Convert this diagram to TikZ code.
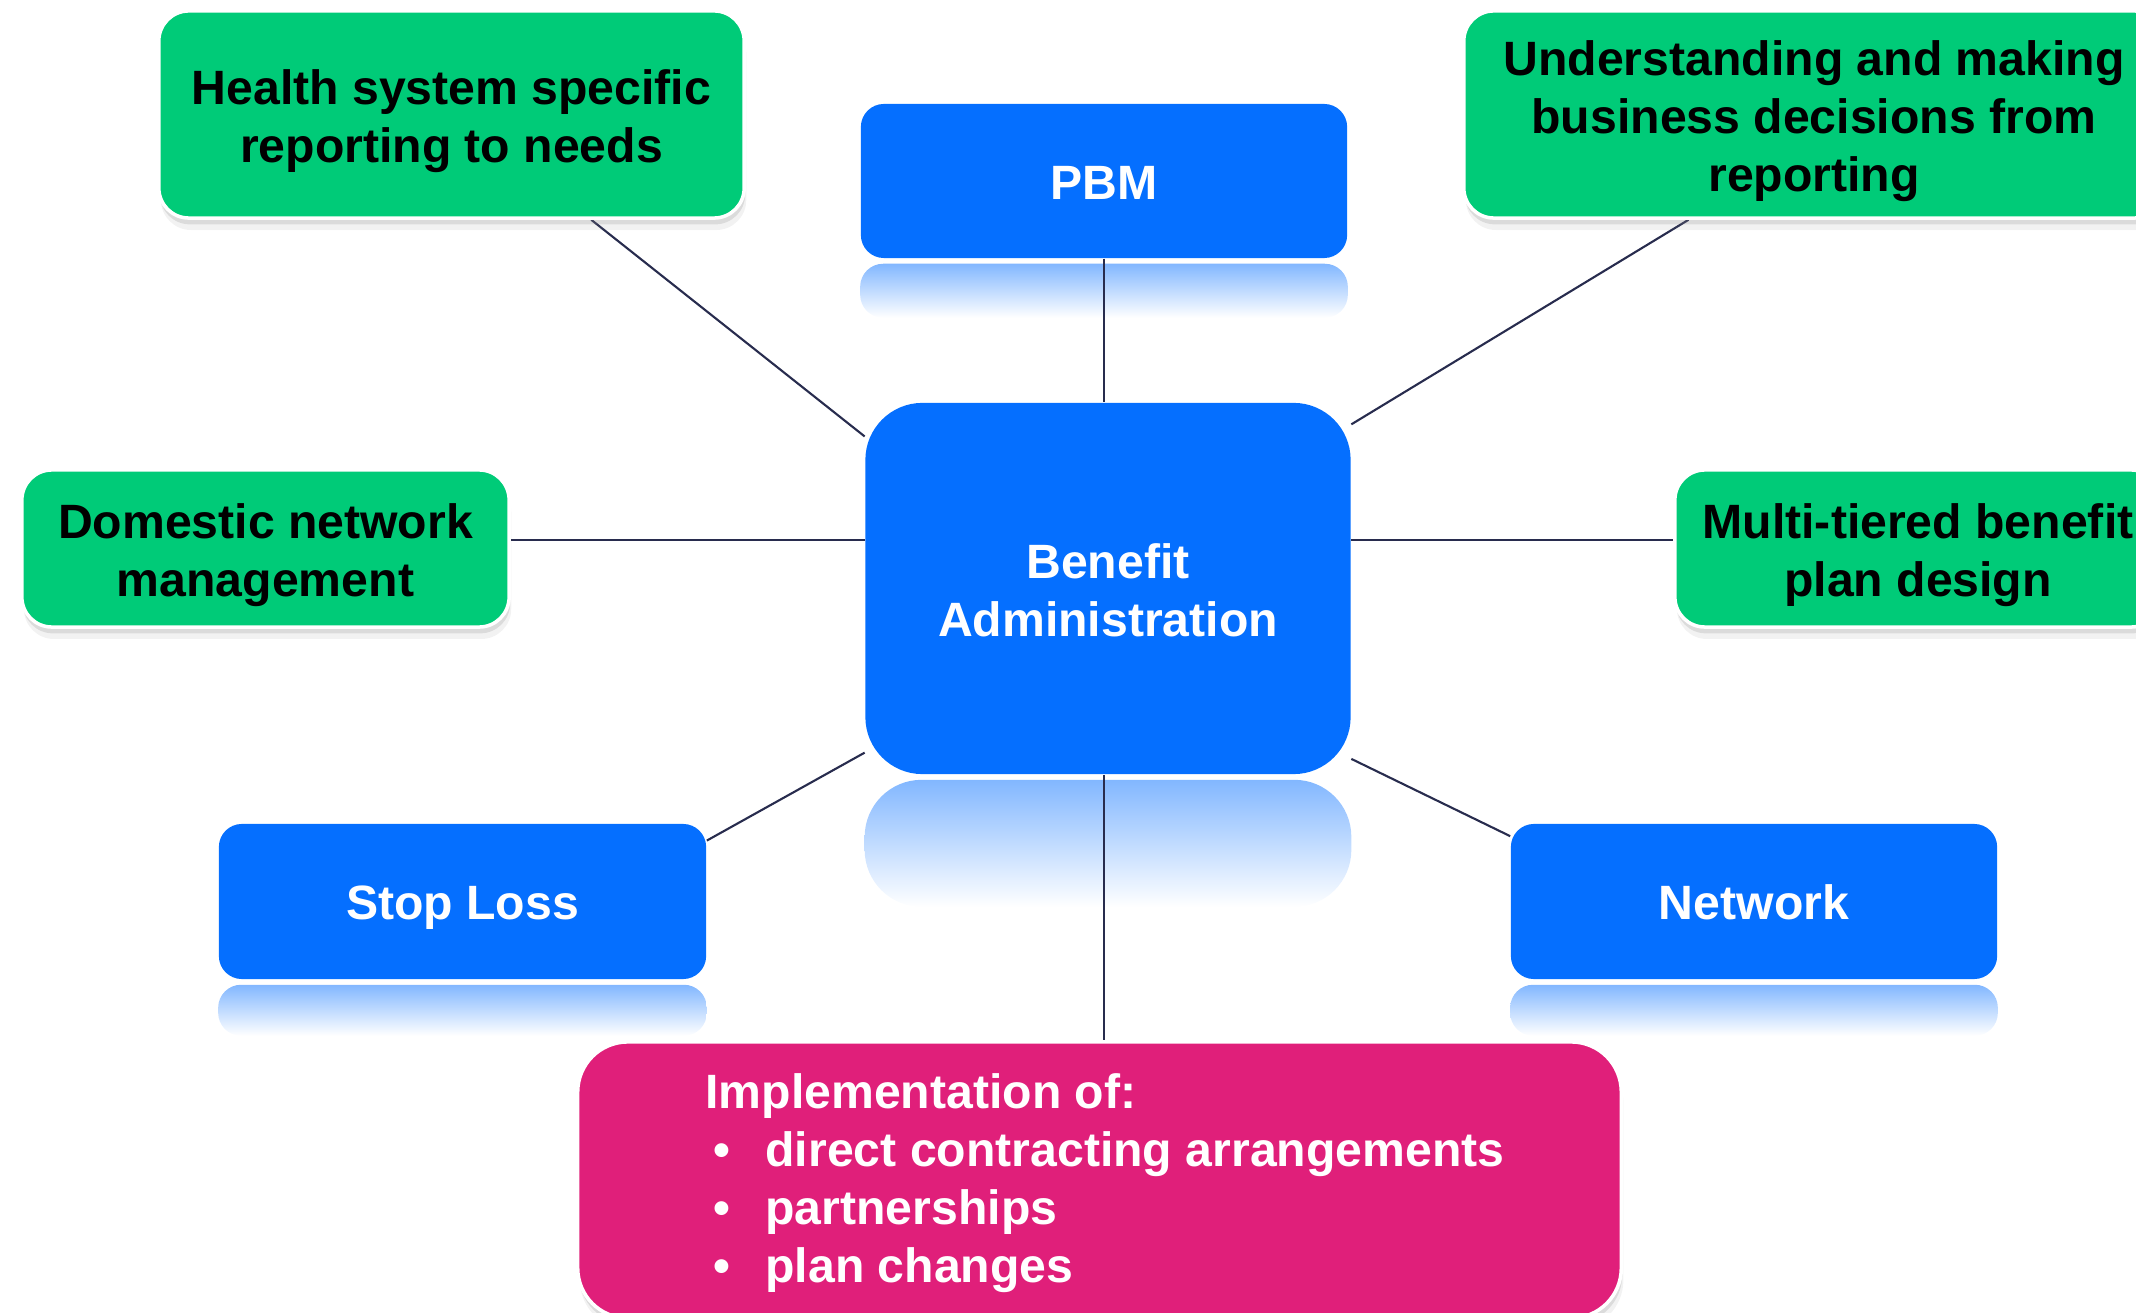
\documentclass[tikz,border=0pt]{standalone}
\usepackage{fontspec}
\setmainfont{Liberation Sans}
\usetikzlibrary{shadows}
\definecolor{boxblue}{RGB}{5,111,255}
\definecolor{boxgreen}{RGB}{0,203,120}
\definecolor{boxpink}{RGB}{224,31,122}
\definecolor{linknavy}{RGB}{40,44,78}
\pgfdeclarelayer{refl}
\pgfdeclarelayer{links}
\pgfsetlayers{refl,links,main}
\newcommand\linestrut[1]{\rule[-0.212em]{0pt}{#1}}
\newcommand\firststrut[1][0.99em]{\rule{0pt}{#1}}
\newcommand\bulletitem{\hspace*{0.19cm}\makebox[0.52cm][l]{\textbullet}}

\begin{document}
\begin{tikzpicture}[x=0.01cm,y=-0.01cm,
	txt/.style={font=\fontsize{13.7}{16.5}\selectfont\bfseries, align=center, execute at begin node=\linestrut{1.174em}, execute at end node=\linestrut{1.117em}},
	bluebox/.style={txt, fill=boxblue, text=white, rounded corners=0.23cm},
	softshadow/.style={drop shadow={shadow xshift=0.3pt, shadow yshift=-1.8pt, opacity=0.2}, drop shadow={shadow xshift=0.6pt, shadow yshift=-3.4pt, opacity=0.1}},
	greenbox/.style={txt, fill=boxgreen, draw=white, line width=1pt, rounded corners=0.3cm, softshadow},
	pinkbox/.style={txt, align=left, fill=boxpink, text=white, draw=white, line width=1pt, rounded corners=0.5cm, softshadow},
	link/.style={draw=linknavy, line width=0.6pt},
	reflshade/.style={top color=boxblue!50!white, bottom color=white}]
	\useasboundingbox (0,0) rectangle (2136,1313);

	\node[greenbox, minimum width=5.85cm, minimum height=2.07cm] (health) at (451.5,114.5) {\firststrut Health system specific\\reporting to needs};
	\node[bluebox, minimum width=4.86cm, minimum height=1.54cm] (pbm) at (1104,181) {PBM};
	\node[greenbox, minimum width=7cm, minimum height=2.07cm] (understand) at (1814,114.5) {\firststrut Understanding and making\\business decisions from\\reporting};
	\node[greenbox, minimum width=4.87cm, minimum height=1.57cm] (domestic) at (265.5,548.5) {\firststrut Domestic network\\management};
	\node[bluebox, rounded corners=0.57cm, minimum width=4.85cm, minimum height=3.71cm] (benefit) at (1108,588.5) {\firststrut[1.01em]Benefit\\Administration};
	\node[greenbox, minimum width=4.86cm, minimum height=1.57cm] (multi) at (1918,548.5) {\firststrut Multi-tiered benefit\\plan design};
	\node[bluebox, minimum width=4.87cm, minimum height=1.55cm] (stoploss) at (462.5,901.5) {Stop Loss};
	\node[bluebox, minimum width=4.86cm, minimum height=1.55cm] (network) at (1754,901.5) {Network};
	\node[pinkbox, minimum width=10.43cm, minimum height=2.76cm] (impl) at (1099.5,1180) {\firststrut[0.87em]\hspace*{0.11cm}Implementation of:\\
		\bulletitem direct contracting arrangements\\
		\bulletitem partnerships\\
		\bulletitem plan changes};

	\begin{pgfonlayer}{refl}
		\foreach \n/\h/\r in {pbm/0.59cm/0.23cm, benefit/1.32cm/0.57cm, stoploss/0.56cm/0.23cm, network/0.56cm/0.23cm}
			\shade[reflshade, rounded corners=\r] ([yshift=-0.05cm]\n.south west) rectangle ([yshift=-\h]\n.south east);
	\end{pgfonlayer}

	\begin{pgfonlayer}{links}
		\draw[link] (health.-37) -- (benefit.148);
		\draw[link] (pbm.south) -- (pbm.south |- benefit.north);
		\draw[link] (understand.220) -- (benefit.34);
		\draw[link] (domestic.2) -- (domestic.2 -| benefit.west);
		\draw[link] (multi.178) -- (multi.178 -| benefit.east);
		\draw[link] (stoploss.14) -- (benefit.214);
		\draw[link] (network.165) -- (benefit.-35);
		\draw[link] (pbm.south |- benefit.south) -- (pbm.south |- impl.north);
	\end{pgfonlayer}
\end{tikzpicture}
\end{document}
